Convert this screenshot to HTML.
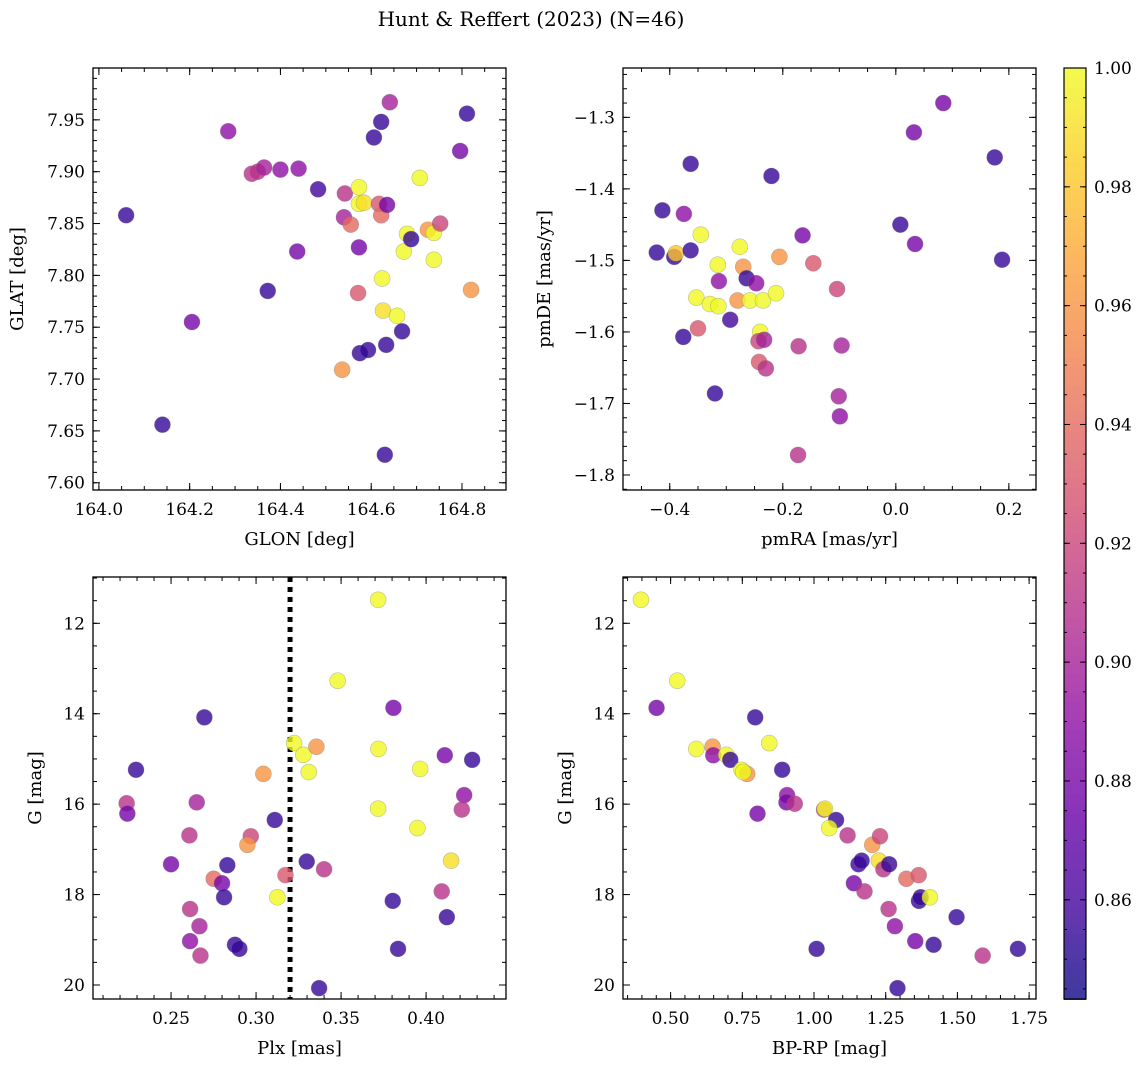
<!DOCTYPE html>
<html><head><meta charset="utf-8"><style>
html,body{margin:0;padding:0;background:#fff}
svg{display:block;font-family:"DejaVu Serif","Liberation Serif",serif}
</style></head><body>
<svg id="fig" width="1148" height="1067" viewBox="0 0 1148 1067" xmlns="http://www.w3.org/2000/svg">
<text x="531" y="26" font-size="20" text-anchor="middle">Hunt &amp; Reffert (2023) (N=46)</text>
</svg>
<script>
// Panel 1: GLON / GLAT
const p1x=[164.06,164.14,164.205,164.285,164.337,164.35,164.364,164.40,164.44,164.437,164.372,164.483,164.542,164.54,164.555,164.573,164.573,164.584,164.573,164.571,164.575,164.593,164.536,164.606,164.622,164.641,164.617,164.622,164.635,164.624,164.626,164.633,164.63,164.657,164.668,164.672,164.679,164.688,164.707,164.725,164.738,164.738,164.752,164.796,164.811,164.82];
const p1y=[7.858,7.656,7.755,7.939,7.898,7.90,7.904,7.902,7.903,7.823,7.785,7.883,7.879,7.856,7.849,7.885,7.869,7.87,7.827,7.783,7.725,7.728,7.709,7.933,7.948,7.967,7.869,7.858,7.868,7.797,7.766,7.733,7.627,7.761,7.746,7.823,7.84,7.835,7.894,7.844,7.841,7.815,7.85,7.92,7.956,7.786];
const p1c=[0.855,0.855,0.88,0.89,0.91,0.91,0.90,0.89,0.89,0.88,0.855,0.86,0.91,0.90,0.94,1,1,0.99,0.88,0.93,0.855,0.855,0.96,0.855,0.855,0.90,0.93,0.94,0.88,1,0.99,0.855,0.855,1,0.855,1,1,0.855,1,0.96,1,1,0.92,0.88,0.855,0.96];
// Panel 2: pmRA / pmDE
const p2x=[-0.423,-0.413,-0.392,-0.389,-0.375,-0.363,-0.363,-0.345,-0.376,-0.350,-0.353,-0.329,-0.314,-0.315,-0.313,-0.320,-0.293,-0.276,-0.270,-0.280,-0.264,-0.258,-0.247,-0.235,-0.240,-0.243,-0.233,-0.242,-0.230,-0.220,-0.212,-0.206,-0.165,-0.172,-0.173,-0.146,-0.104,-0.096,-0.101,-0.099,0.008,0.032,0.034,0.084,0.175,0.188];
const p2y=[-1.489,-1.430,-1.495,-1.490,-1.435,-1.365,-1.486,-1.464,-1.607,-1.595,-1.552,-1.561,-1.564,-1.506,-1.529,-1.686,-1.583,-1.481,-1.509,-1.556,-1.525,-1.556,-1.532,-1.556,-1.600,-1.613,-1.611,-1.642,-1.651,-1.382,-1.546,-1.495,-1.465,-1.620,-1.772,-1.504,-1.540,-1.619,-1.690,-1.718,-1.450,-1.321,-1.477,-1.280,-1.356,-1.499];
const p2c=[0.855,0.855,0.855,0.98,0.89,0.855,0.855,1,0.855,0.93,1,1,1,1,0.89,0.855,0.86,1,0.96,0.96,0.855,1,0.89,1,1,0.92,0.90,0.93,0.91,0.855,1,0.96,0.88,0.91,0.91,0.93,0.92,0.90,0.90,0.89,0.855,0.88,0.88,0.88,0.855,0.855];
// Panel 3: Plx / G
const p3x=[0.2294,0.2239,0.2243,0.25,0.2608,0.2651,0.2696,0.2612,0.2667,0.2612,0.2673,0.2751,0.28,0.2831,0.2812,0.2876,0.2902,0.3043,0.2969,0.2949,0.3110,0.3125,0.3173,0.3224,0.3278,0.3310,0.3355,0.3298,0.34,0.3371,0.348,0.3718,0.372,0.3718,0.3808,0.3804,0.3835,0.3965,0.3949,0.4147,0.411,0.4092,0.4122,0.4224,0.421,0.4271];
const p3y=[15.24,15.98,16.21,17.33,16.69,15.96,14.08,18.32,18.70,19.03,19.35,17.65,17.75,17.35,18.06,19.11,19.20,15.33,16.71,16.90,16.35,18.06,17.57,14.65,14.91,15.29,14.73,17.27,17.44,20.07,13.27,11.48,14.78,16.10,13.87,18.14,19.20,15.22,16.53,17.25,14.92,17.93,18.50,15.80,16.12,15.02];
const p3c=[0.855,0.91,0.88,0.88,0.91,0.90,0.855,0.91,0.90,0.89,0.91,0.94,0.88,0.855,0.855,0.855,0.855,0.96,0.92,0.96,0.855,1,0.93,1,1,1,0.96,0.855,0.91,0.855,1,1,1,1,0.88,0.855,0.855,1,1,0.99,0.88,0.91,0.855,0.89,0.91,0.855];
const plxLine=[0.32];
// Panel 4: BP-RP / G
const p4x=[0.3966,0.5232,0.451,0.5894,0.6463,0.6487,0.694,0.708,0.7474,0.767,0.753,0.795,0.803,0.844,0.889,0.906,0.904,0.933,1.009,1.035,1.038,1.077,1.053,1.117,1.139,1.176,1.155,1.166,1.203,1.230,1.226,1.242,1.262,1.260,1.282,1.291,1.322,1.365,1.366,1.372,1.404,1.353,1.417,1.497,1.588,1.711];
const p4y=[11.48,13.27,13.87,14.78,14.73,14.92,14.91,15.02,15.24,15.33,15.29,14.08,16.21,14.65,15.24,15.80,15.96,15.99,19.20,16.12,16.10,16.35,16.53,16.69,17.75,17.93,17.33,17.25,16.90,16.71,17.25,17.44,17.33,18.32,18.70,20.07,17.65,17.57,18.14,18.06,18.06,19.03,19.11,18.50,19.35,19.20];
const p4c=[1,1,0.88,1,0.96,0.89,1,0.855,1,0.96,1,0.855,0.88,1,0.855,0.89,0.88,0.91,0.855,0.92,1,0.855,1,0.91,0.88,0.91,0.86,0.855,0.96,0.92,0.99,0.91,0.855,0.91,0.89,0.855,0.94,0.93,0.855,0.855,1,0.88,0.855,0.855,0.91,0.855];
const cbTicks=[0.86,0.88,0.90,0.92,0.94,0.96,0.98,1.00];

const NS='http://www.w3.org/2000/svg';
const svg=document.getElementById('fig');
const CMIN=0.8433,CMAX=1.0;
const plasma=[[13,8,135],[65,4,157],[106,0,168],[143,13,164],[177,42,144],[204,71,120],[225,100,98],[242,132,75],[252,166,54],[252,206,37],[240,249,33]];
function rgbOf(v){let t=(v-CMIN)/(CMAX-CMIN);t=Math.max(0,Math.min(1,t))*10;const i=Math.min(9,Math.floor(t)),f=t-i;const a=plasma[i],b=plasma[i+1];return a.map((c,k)=>c+(b[k]-c)*f);}
function cmap(v){return 'rgb('+rgbOf(v).map(Math.round).join(',')+')';}
function cmapBlend(v){return 'rgb('+rgbOf(v).map(c=>Math.round(0.8*c+0.2*255)).join(',')+')';}
function mk(tag,attrs,parent){const e=document.createElementNS(NS,tag);for(const k in attrs)e.setAttribute(k,attrs[k]);(parent||svg).appendChild(e);return e;}
function fmt(v,d){let s=v.toFixed(d);if(v<0&&Math.abs(v)>1e-9)s='\u2212'+s.slice(1);if(Math.abs(v)<1e-9)s=(0).toFixed(d);return s;}

function panel(o){
  const g=mk('g',{});
  
  
  const sx=v=>o.x0+(v-o.xmin)/(o.xmax-o.xmin)*(o.x1-o.x0);
  const sy=v=>o.inv? o.y0+(v-o.ymin)/(o.ymax-o.ymin)*(o.y1-o.y0) : o.y1-(v-o.ymin)/(o.ymax-o.ymin)*(o.y1-o.y0);
  const tg=mk('g',{stroke:'#000','stroke-width':1},g);
  
  
  for(let v=Math.ceil(o.xmin/o.xmn-1e-6)*o.xmn;v<=o.xmax+1e-9;v+=o.xmn){const x=sx(v);mk('line',{x1:x,x2:x,y1:o.y1,y2:o.y1-4},tg);mk('line',{x1:x,x2:x,y1:o.y0,y2:o.y0+4},tg);}
  for(let v=Math.ceil(o.ymin/o.ymn-1e-6)*o.ymn;v<=o.ymax+1e-9;v+=o.ymn){const y=sy(v);mk('line',{x1:o.x0,x2:o.x0+4,y1:y,y2:y},tg);mk('line',{x1:o.x1,x2:o.x1-4,y1:y,y2:y},tg);}
  o.xt.forEach(v=>{const x=sx(v);mk('line',{x1:x,x2:x,y1:o.y1,y2:o.y1-7},tg);mk('line',{x1:x,x2:x,y1:o.y0,y2:o.y0+7},tg);
    const t=mk('text',{x:x,y:o.y1+25,'font-size':17,'text-anchor':'middle'},g);t.textContent=fmt(v,o.xd);
    });
  o.yt.forEach(v=>{const y=sy(v);mk('line',{x1:o.x0,x2:o.x0+7,y1:y,y2:y},tg);mk('line',{x1:o.x1,x2:o.x1-7,y1:y,y2:y},tg);
    const t=mk('text',{x:o.x0-8,y:y+6,'font-size':17,'text-anchor':'end'},g);t.textContent=fmt(v,o.yd);
    });
  if(o.vline){o.vline.forEach(v=>{const l=mk('line',{x1:sx(v),x2:sx(v),y1:o.y0,y2:o.y1,stroke:'#000','stroke-width':5,'stroke-dasharray':'5,5'},g);
    });}
  const pg=mk('g',{},g);
  
  
  o.xs.forEach((xv,i)=>{const c=mk('circle',{cx:sx(xv),cy:sy(o.ys[i]),r:8,fill:cmap(o.cs[i]),'fill-opacity':0.8,stroke:'#777','stroke-opacity':0.45,'stroke-width':0.6},pg);
    });
  const fr=mk('rect',{x:o.x0,y:o.y0,width:o.x1-o.x0,height:o.y1-o.y0,fill:'none',stroke:'#000','stroke-width':1.3},g);
  
  const xl=mk('text',{x:(o.x0+o.x1)/2,y:o.y1+55,'font-size':18,'text-anchor':'middle'},g);xl.textContent=o.xlab;
  
  const yy=(o.y0+o.y1)/2;
  const yl=mk('text',{x:o.ylx,y:yy,'font-size':18,'text-anchor':'middle',transform:'rotate(-90 '+o.ylx+' '+yy+')'},g);yl.textContent=o.ylab;
  
}
panel({name:'glon-glat-panel',x0:93,x1:506,y0:68,y1:490,xmin:163.987,xmax:164.897,ymin:7.593,ymax:8.0,xt:[164.0,164.2,164.4,164.6,164.8],yt:[7.60,7.65,7.70,7.75,7.80,7.85,7.90,7.95],xmn:0.05,ymn:0.01,xd:1,yd:2,xs:p1x,ys:p1y,cs:p1c,xlab:'GLON [deg]',ylab:'GLAT [deg]',ylx:23});
panel({name:'proper-motion-panel',x0:623,x1:1036,y0:68,y1:490,xmin:-0.4827,xmax:0.248,ymin:-1.821,ymax:-1.231,xt:[-0.4,-0.2,0.0,0.2],yt:[-1.8,-1.7,-1.6,-1.5,-1.4,-1.3],xmn:0.05,ymn:0.02,xd:1,yd:1,xs:p2x,ys:p2y,cs:p2c,xlab:'pmRA [mas/yr]',ylab:'pmDE [mas/yr]',ylx:550});
panel({name:'parallax-mag-panel',x0:93,x1:506,y0:577,y1:999,xmin:0.2041,xmax:0.447,ymin:10.976,ymax:20.31,inv:true,xt:[0.25,0.30,0.35,0.40],yt:[12,14,16,18,20],xmn:0.01,ymn:0.5,xd:2,yd:0,xs:p3x,ys:p3y,cs:p3c,xlab:'Plx [mas]',ylab:'G [mag]',ylx:41,vline:plxLine});
panel({name:'cmd-panel',x0:623,x1:1036,y0:577,y1:999,xmin:0.334,xmax:1.774,ymin:10.976,ymax:20.31,inv:true,xt:[0.5,0.75,1.0,1.25,1.5,1.75],yt:[12,14,16,18,20],xmn:0.05,ymn:0.5,xd:2,yd:0,xs:p4x,ys:p4y,cs:p4c,xlab:'BP-RP [mag]',ylab:'G [mag]',ylx:571});

(function(){
  const g=mk('g',{});
  
  
  const X0=1064,X1=1086,Y0=68,Y1=999;
  const sy=v=>Y1-(v-CMIN)/(CMAX-CMIN)*(Y1-Y0);
  const n=100;
  for(let i=0;i<n;i++){const a=CMIN+(CMAX-CMIN)*i/n,b=CMIN+(CMAX-CMIN)*(i+1)/n;
    mk('rect',{x:X0,y:sy(b),width:X1-X0,height:sy(a)-sy(b)+1,fill:cmapBlend((a+b)/2)},g);}
  for(let v=0.845;v<=1.0001;v+=0.005){const y=sy(v);mk('line',{x1:X1,x2:X1-3,y1:y,y2:y,stroke:'#000'},g);mk('line',{x1:X0,x2:X0+3,y1:y,y2:y,stroke:'#000'},g);}
  cbTicks.forEach(v=>{const y=sy(v);mk('line',{x1:X1,x2:X1-6,y1:y,y2:y,stroke:'#000'},g);mk('line',{x1:X0,x2:X0+6,y1:y,y2:y,stroke:'#000'},g);
    const t=mk('text',{x:X1+8,y:y+6,'font-size':17},g);t.textContent=v.toFixed(2);
    });
  mk('rect',{x:X0,y:Y0,width:X1-X0,height:Y1-Y0,fill:'none',stroke:'#000','stroke-width':1.2},g);
})();
</script>
</body></html>
